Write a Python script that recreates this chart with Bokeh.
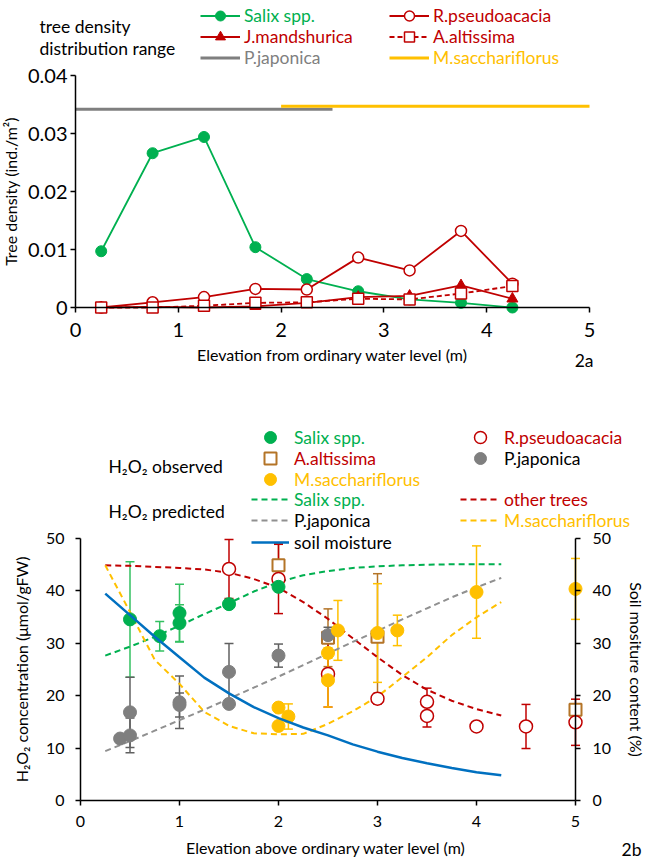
from bokeh.plotting import figure
from bokeh.models import (Range1d, LinearAxis, FixedTicker, Legend, LegendItem, Label,
                          Whisker, TeeHead, ColumnDataSource)
from bokeh.layouts import column
from bokeh.embed import file_html
from bokeh.resources import INLINE

FONT = "Lato"
GREEN = "#00B050"
GREEN_BAR = "#33C060"
RED = "#C00000"
ORANGE = "#FFC000"
GRAY = "#7F7F7F"
GRAY_BAR = "#606060"
BLUE = "#0070C0"
BROWN = "#B47427"

# ---------------- data: 2a tree density ----------------
elev_top = [0.25, 0.75, 1.25, 1.75, 2.25, 2.75, 3.25, 3.75, 4.25]
salix_density = [0.0097, 0.0266, 0.0294, 0.0104, 0.0049, 0.0028, 0.0014, 0.0008, 0.0000]
rpseudo_density = [0.0000, 0.0009, 0.0018, 0.0032, 0.0031, 0.0086, 0.0064, 0.0132, 0.0041]
jmand_density = [0.0000, 0.0001, 0.0000, 0.0002, 0.0008, 0.0018, 0.0020, 0.0038, 0.0015]
aalt_density = [0.0000, 0.0000, 0.0003, 0.0008, 0.0009, 0.0015, 0.0014, 0.0024, 0.0037]
pjap_range_x = [0.0, 2.5]
pjap_range_y = [0.0342, 0.0342]
msac_range_x = [2.0, 5.0]
msac_range_y = [0.0347, 0.0347]
top_xticks = [0, 1, 2, 3, 4, 5]
top_yticks = [0, 0.01, 0.02, 0.03, 0.04]
top_ytick_labels = ["0", "0.01", "0.02", "0.03", "0.04"]

# ---------------- data: 2b H2O2 ----------------
elev_pred = [0.25, 0.5, 0.75, 1.0, 1.25, 1.5, 1.75, 2.0, 2.25, 2.5, 2.75, 3.0, 3.25, 3.5, 3.75, 4.0, 4.25]
salix_pred = [27.6, 29.3, 31.2, 33.3, 35.5, 37.6, 39.8, 41.6, 42.9, 43.7, 44.3, 44.6, 44.8, 44.9, 45.0, 45.0, 45.0]
other_pred = [44.8, 44.7, 44.5, 44.3, 44.0, 43.4, 42.2, 40.5, 37.8, 34.6, 30.9, 27.3, 23.9, 21.1, 19.0, 17.4, 16.2]
pjap_pred = [9.4, 11.3, 13.3, 15.3, 17.3, 19.4, 21.5, 23.6, 25.8, 28.0, 30.2, 32.3, 34.5, 36.6, 38.7, 40.6, 42.4]
msac_pred = [44.8, 35.9, 26.8, 22.2, 16.9, 14.2, 12.8, 12.6, 12.7, 14.6, 17.0, 19.8, 23.5, 27.3, 31.5, 34.9, 37.8]
soil_moisture = [39.4, 35.3, 31.2, 27.3, 23.4, 20.4, 17.8, 15.7, 13.9, 12.4, 10.7, 9.3, 8.1, 7.1, 6.2, 5.4, 4.8]

salix_obs_x = [0.5, 0.8, 1.0, 1.0, 1.5, 2.0]
salix_obs_y = [34.5, 31.3, 35.7, 33.8, 37.4, 40.7]
salix_obs_err = [11.0, 2.8, 5.5, 3.5, 0.0, 0.0]

rpseudo_obs_x = [1.5, 2.0, 2.5, 3.0, 3.5, 3.5, 4.0, 4.5, 5.0]
rpseudo_obs_y = [44.1, 42.2, 24.1, 19.4, 18.8, 16.1, 14.1, 14.1, 14.9]
rpseudo_obs_err = [5.6, 6.6, 6.3, 1.0, 2.6, 2.1, 0.6, 4.2, 4.4]

aalt_obs_x = [2.0, 2.5, 3.0, 5.0]
aalt_obs_y = [44.8, 31.0, 31.2, 17.3]
aalt_obs_err = [4.2, 5.5, 12.0, 1.0]

pjap_obs_x = [0.4, 0.5, 0.5, 1.0, 1.0, 1.5, 1.5, 2.0, 2.5]
pjap_obs_y = [11.8, 12.4, 16.8, 18.7, 18.2, 24.5, 18.4, 27.6, 31.5]
pjap_obs_err = [0.6, 3.3, 6.7, 5.0, 2.3, 5.4, 0.6, 2.2, 1.5]

msac_obs_x = [2.0, 2.0, 2.1, 2.5, 2.5, 2.6, 3.0, 3.2, 4.0, 5.0]
msac_obs_y = [17.7, 14.2, 16.0, 28.1, 22.9, 32.4, 31.9, 32.4, 39.7, 40.3]
msac_obs_err = [0.8, 0.8, 2.4, 1.0, 5.1, 5.7, 9.4, 2.9, 8.8, 5.8]

bot_xticks = [0, 1, 2, 3, 4, 5]
bot_yticks = [0, 10, 20, 30, 40, 50]

# ---------------- layout constants (page pixels; the page template has no body margin) ----------------
W = 646
MARGIN = 0
H1, H2 = 372, 490
T1 = MARGIN
T2 = MARGIN + H1
A_X0, A_X5, A_Y0, A_Y4 = 75, 589, 307, 75
B_X0, B_X5, B_Y0, B_Y50 = 80, 575, 800, 537.5

LS = "17.5px"


def xrange_for(px0, px5):
    k = (px5 - px0) / 5.0
    return Range1d((MARGIN - px0) / k, (MARGIN + W - px0) / k)


def yrange_for(py0, pytop, vtop, top, h):
    k = (py0 - pytop) / vtop
    return Range1d((py0 - (top + h)) / k, (py0 - top) / k)


def style_axis(ax, tick_size, label_size):
    ax.major_tick_in = 0
    ax.major_tick_out = 5
    ax.minor_tick_line_color = None
    ax.axis_line_color = "black"
    ax.axis_line_width = 1.5
    ax.major_tick_line_width = 1.5
    ax.major_label_text_font = FONT
    ax.major_label_text_font_size = tick_size
    ax.major_label_text_color = "black"
    ax.axis_label_text_font = FONT
    ax.axis_label_text_font_size = label_size
    ax.axis_label_text_font_style = "normal"
    ax.axis_label_text_color = "black"


def add_legend(p, top, h, renderers, text, color, left, cy, gw, gh, standoff):
    leg = Legend(items=[LegendItem(label=text, renderers=renderers)],
                 location=(left - MARGIN, (top + h) - (cy + gh / 2)),
                 glyph_width=gw, glyph_height=gh, label_height=gh, label_width=10,
                 label_standoff=standoff, padding=0, margin=0, spacing=0,
                 border_line_color=None, background_fill_alpha=0,
                 label_text_color=color, label_text_font=FONT, label_text_font_size=LS)
    p.add_layout(leg)


def add_label(p, top, h, text, x, y, size=LS, align="left", color="black"):
    p.add_layout(Label(x=x - MARGIN, y=(top + h) - y, x_units="screen", y_units="screen",
                       text=text, text_font=FONT, text_font_size=size, text_color=color,
                       text_align=align, text_baseline="middle"))


def new_fig(h, xr, yr):
    p = figure(width=W, height=h, x_range=xr, y_range=yr, output_backend="svg",
               toolbar_location=None, min_border=0, min_border_left=0, min_border_right=0,
               min_border_top=0, min_border_bottom=0)
    p.xgrid.visible = False
    p.ygrid.visible = False
    p.outline_line_color = None
    return p


# ================= top figure (2a) =================
p1 = new_fig(H1, xrange_for(A_X0, A_X5), yrange_for(A_Y0, A_Y4, 0.04, T1, H1))

xa = p1.xaxis[0]
xa.fixed_location = 0
xa.ticker = FixedTicker(ticks=top_xticks)
xa.bounds = (0, 5)
xa.axis_label = "Elevation from ordinary water level (m)"
xa.major_label_standoff = 10
xa.axis_label_standoff = 5
style_axis(xa, "20px", "16px")

ya = p1.yaxis[0]
ya.fixed_location = 0
ya.ticker = FixedTicker(ticks=top_yticks)
ya.major_label_overrides = {t: s for t, s in zip(top_yticks, top_ytick_labels)}
ya.bounds = (0, 0.04)
ya.axis_label = "Tree density (ind./m²)"
ya.major_label_standoff = 3
ya.axis_label_standoff = 5
style_axis(ya, "20px", "16px")

r_pj = p1.line(pjap_range_x, pjap_range_y, line_color=GRAY, line_width=3)
r_ms = p1.line(msac_range_x, msac_range_y, line_color=ORANGE, line_width=3)

r_sal_l = p1.line(elev_top, salix_density, line_color=GREEN, line_width=1.8)
r_sal_m = p1.scatter(elev_top, salix_density, marker="circle", size=11, fill_color=GREEN, line_color=GREEN)
r_jm_l = p1.line(elev_top, jmand_density, line_color=RED, line_width=1.8)
r_jm_m = p1.scatter(elev_top, jmand_density, marker="triangle", size=11, fill_color=RED, line_color=RED)
r_rp_l = p1.line(elev_top, rpseudo_density, line_color=RED, line_width=1.8)
r_rp_m = p1.scatter(elev_top, rpseudo_density, marker="circle", size=11, fill_color="white", line_color=RED, line_width=1.5)
r_aa_l = p1.line(elev_top, aalt_density, line_color=RED, line_width=1.8, line_dash="5 3")
r_aa_m = p1.scatter(elev_top, aalt_density, marker="square", size=11, fill_color="white", line_color=RED, line_width=1.5)

add_legend(p1, T1, H1, [r_sal_l, r_sal_m], "Salix spp.", GREEN, 200, 15, 40, 25, 4)
add_legend(p1, T1, H1, [r_jm_l, r_jm_m], "J.mandshurica", RED, 200, 36, 40, 25, 4)
add_legend(p1, T1, H1, [r_pj], "P.japonica", GRAY, 200, 57, 40, 25, 4)
add_legend(p1, T1, H1, [r_rp_l, r_rp_m], "R.pseudoacacia", RED, 389, 15, 40, 25, 4)
add_legend(p1, T1, H1, [r_aa_l, r_aa_m], "A.altissima", RED, 389, 36, 40, 25, 4)
add_legend(p1, T1, H1, [r_ms], "M.sacchariflorus", ORANGE, 389, 57, 40, 25, 4)
add_label(p1, T1, H1, "tree density", 39, 26)
add_label(p1, T1, H1, "distribution range", 39, 48)
add_label(p1, T1, H1, "2a", 593, 360, align="right")

# ================= bottom figure (2b) =================
p2 = new_fig(H2, xrange_for(B_X0, B_X5), yrange_for(B_Y0, B_Y50, 50, T2, H2))
p2.extra_y_ranges = {"soil": yrange_for(B_Y0, B_Y50, 50, T2, H2)}

bx = p2.xaxis[0]
bx.fixed_location = 0
bx.ticker = FixedTicker(ticks=bot_xticks)
bx.bounds = (0, 5)
bx.axis_label = "Elevation above ordinary water level  (m)"
bx.major_label_standoff = 10
bx.axis_label_standoff = 8
style_axis(bx, "16px", "16px")

by = p2.yaxis[0]
by.fixed_location = 0
by.ticker = FixedTicker(ticks=bot_yticks)
by.bounds = (0, 50)
by.axis_label = "H₂O₂ concentration (μmol/gFW)"
by.major_label_standoff = 11
by.axis_label_standoff = 12
style_axis(by, "16px", "16px")

ry = LinearAxis(y_range_name="soil", ticker=FixedTicker(ticks=bot_yticks), bounds=(0, 50),
                axis_label="Soil mositure content (%)", fixed_location=5)
ry.major_label_standoff = 12
ry.axis_label_standoff = 13
style_axis(ry, "16px", "16px")
p2.add_layout(ry, "right")

DASH = "6 4"
r_sal_p = p2.line(elev_pred, salix_pred, line_color=GREEN, line_width=2, line_dash=DASH)
r_oth_p = p2.line(elev_pred, other_pred, line_color=RED, line_width=2, line_dash=DASH)
r_pj_p = p2.line(elev_pred, pjap_pred, line_color="#909090", line_width=2, line_dash=DASH)
r_ms_p = p2.line(elev_pred, msac_pred, line_color=ORANGE, line_width=2, line_dash=DASH)


def whiskers(xs, ys, errs, color):
    keep = [i for i, e in enumerate(errs) if e > 0]
    src = ColumnDataSource(dict(x=[xs[i] for i in keep],
                                upper=[ys[i] + errs[i] for i in keep],
                                lower=[ys[i] - errs[i] for i in keep]))
    w = Whisker(source=src, base="x", upper="upper", lower="lower",
                line_color=color, line_width=1.5,
                upper_head=TeeHead(size=9, line_color=color, line_width=1.5),
                lower_head=TeeHead(size=9, line_color=color, line_width=1.5))
    w.level = "underlay"
    p2.add_layout(w)


whiskers(aalt_obs_x, aalt_obs_y, aalt_obs_err, BROWN)
whiskers(rpseudo_obs_x, rpseudo_obs_y, rpseudo_obs_err, RED)
whiskers(salix_obs_x, salix_obs_y, salix_obs_err, GREEN_BAR)
whiskers(pjap_obs_x, pjap_obs_y, pjap_obs_err, GRAY_BAR)
whiskers(msac_obs_x, msac_obs_y, msac_obs_err, ORANGE)

r_aa_o = p2.scatter(aalt_obs_x, aalt_obs_y, marker="square", size=12, fill_color="white",
                    line_color=BROWN, line_width=2)
r_rp_o = p2.scatter(rpseudo_obs_x, rpseudo_obs_y, marker="circle", size=13, fill_color="white",
                    line_color=RED, line_width=1.5)
r_sal_o = p2.scatter(salix_obs_x, salix_obs_y, marker="circle", size=13, fill_color=GREEN, line_color=GREEN)
r_pj_o = p2.scatter(pjap_obs_x, pjap_obs_y, marker="circle", size=13, fill_color=GRAY, line_color=GRAY)
r_ms_o = p2.scatter(msac_obs_x, msac_obs_y, marker="circle", size=13, fill_color=ORANGE, line_color=ORANGE)

r_soil = p2.line(elev_pred, soil_moisture, line_color=BLUE, line_width=2.5, y_range_name="soil")

add_legend(p2, T2, H2, [r_sal_o], "Salix spp.", GREEN, 251, 437, 38, 30, 5)
add_legend(p2, T2, H2, [r_aa_o], "A.altissima", RED, 251, 458, 38, 30, 5)
add_legend(p2, T2, H2, [r_ms_o], "M.sacchariflorus", ORANGE, 251, 479, 38, 30, 5)
add_legend(p2, T2, H2, [r_sal_p], "Salix spp.", GREEN, 251, 499, 38, 30, 5)
add_legend(p2, T2, H2, [r_pj_p], "P.japonica", "black", 251, 520, 38, 30, 5)
add_legend(p2, T2, H2, [r_soil], "soil moisture", "black", 251, 542, 38, 30, 5)
add_legend(p2, T2, H2, [r_rp_o], "R.pseudoacacia", RED, 460, 437, 40, 30, 4)
add_legend(p2, T2, H2, [r_pj_o], "P.japonica", "black", 460, 458, 40, 30, 4)
add_legend(p2, T2, H2, [r_oth_p], "other trees", RED, 460, 499, 40, 30, 4)
add_legend(p2, T2, H2, [r_ms_p], "M.sacchariflorus", ORANGE, 460, 520, 40, 30, 4)
add_label(p2, T2, H2, "H₂O₂ observed", 108, 466)
add_label(p2, T2, H2, "H₂O₂ predicted", 108, 511)
add_label(p2, T2, H2, "2b", 641, 849, align="right")

layout = column(p1, p2, spacing=0)
open("out.html", "w").write(file_html(layout, INLINE))
